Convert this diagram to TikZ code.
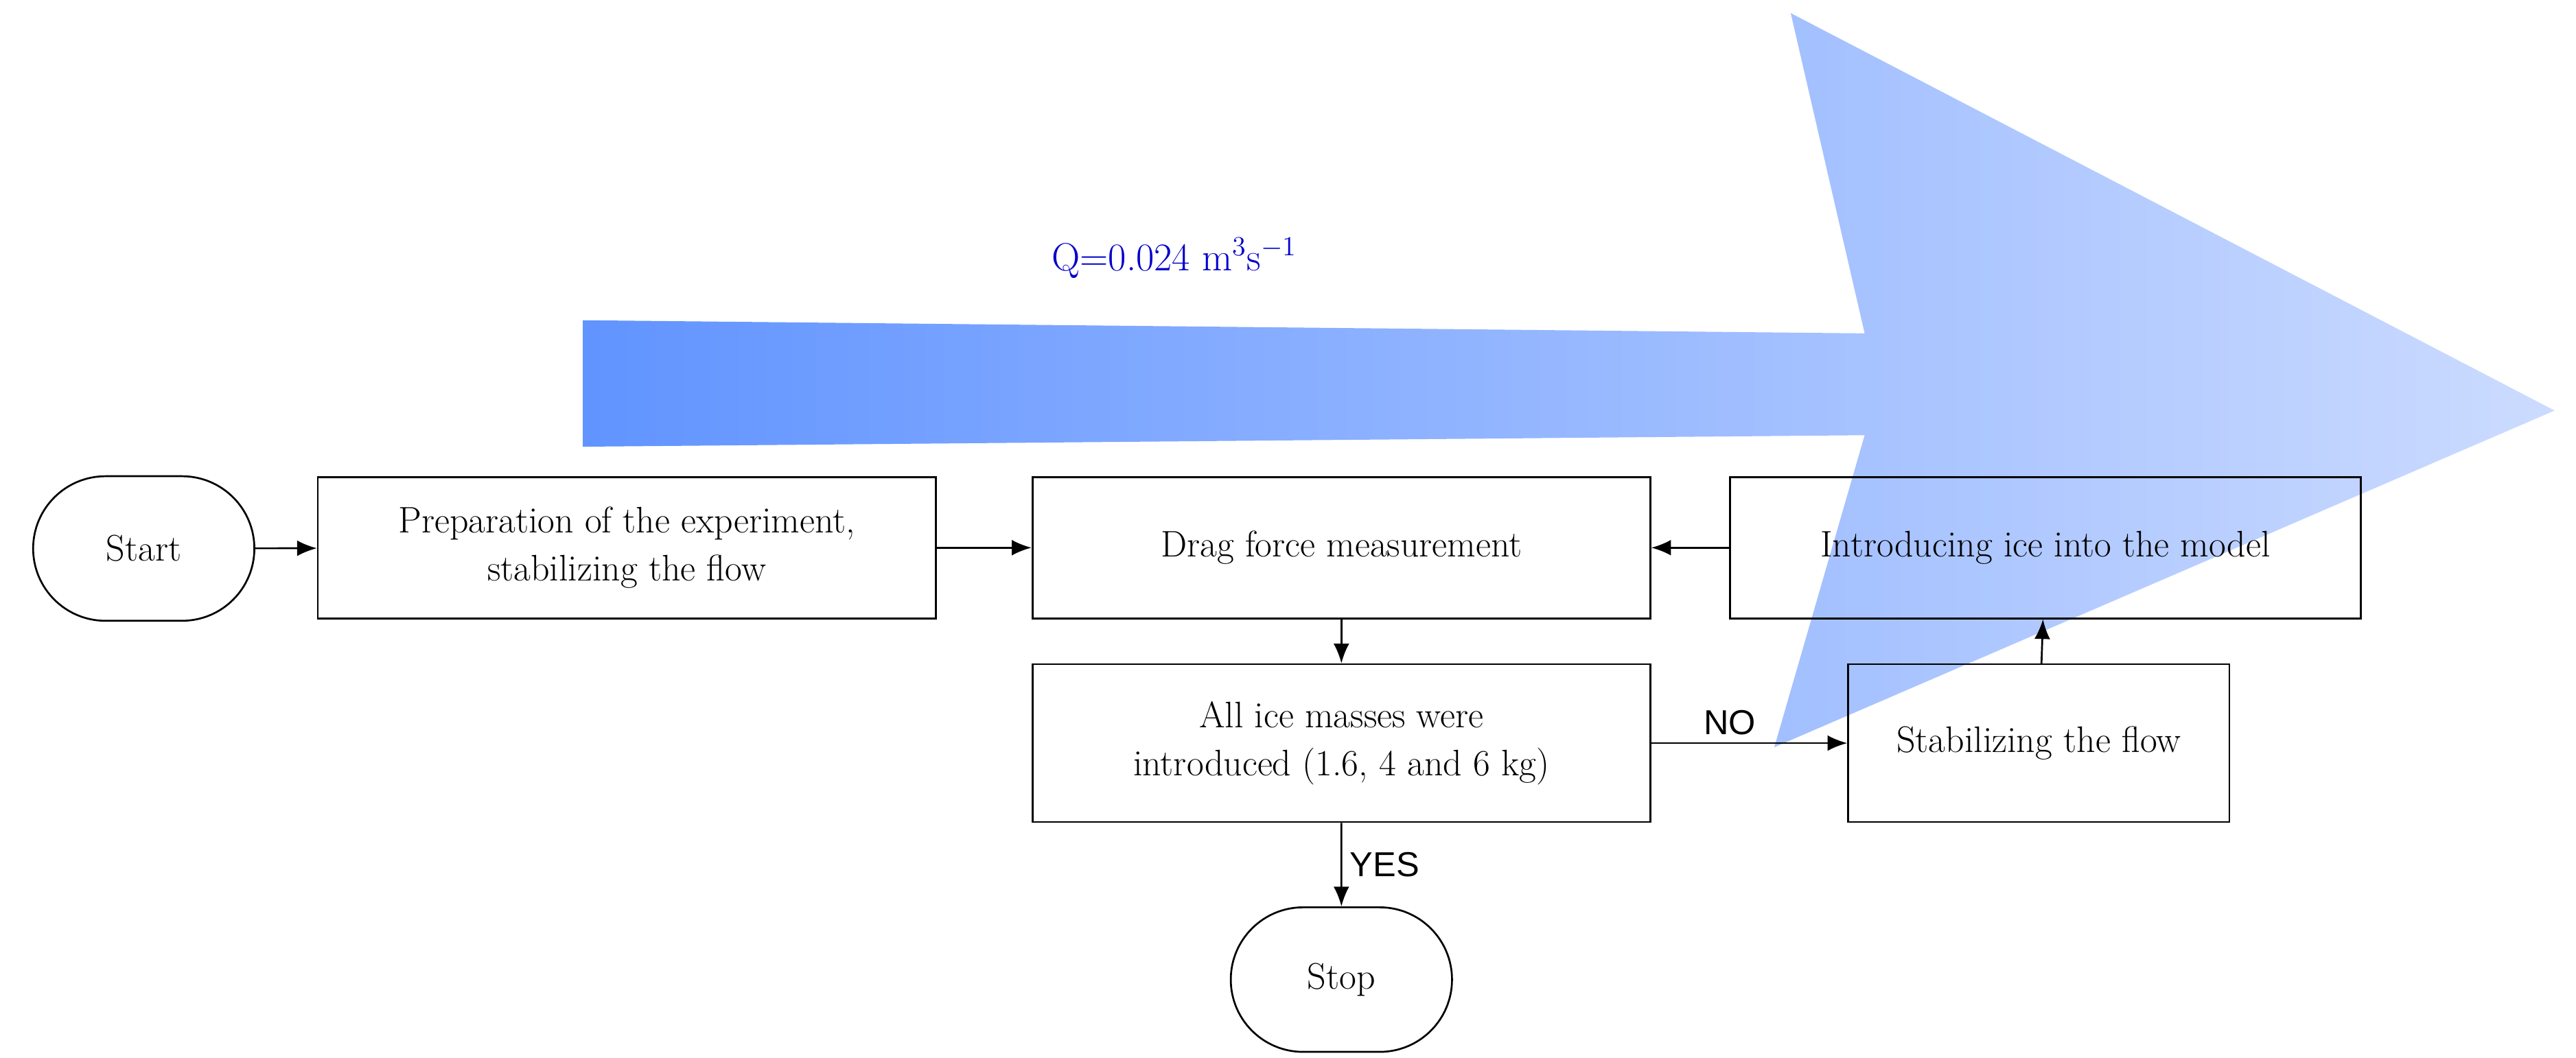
\documentclass[tikz,border=0pt]{standalone}
\usepackage{fontspec}
\newfontfamily\labelfont{Liberation Sans}
\usetikzlibrary{arrows.meta,shapes.misc}
\definecolor{flowdark}{rgb}{0.38,0.58,1}
\definecolor{flowlight}{rgb}{0.80,0.86,1}
\tikzset{
    stage/.style={draw,thick,minimum width=9.4cm,minimum height=2.15cm,align=center,font=\fontsize{16}{21}\selectfont},
    term/.style={draw,thick,rounded rectangle,minimum width=3.6cm,minimum height=2.2cm,font=\fontsize{16}{21}\selectfont},
    link/.style={thick,-{Latex[length=3mm,width=2.4mm]}},
    answer/.style={font=\labelfont\fontsize{15}{18}\selectfont}
}
\begin{document}
\begin{tikzpicture}[x=0.025cm,y=-0.025cm]
        \useasboundingbox (0,0) rectangle (1568,644);
        % flow arrow
        \shade[left color=flowdark,right color=flowlight] (355,195) -- (1135,203) -- (1090,8) -- (1555,250) -- (1080,455) -- (1135,265) -- (355,272) -- cycle;
        \node[text=blue!80!black,font=\fontsize{17}{20}\selectfont] (q) at (715,157) {Q=0.024 m\textsuperscript{3}s\textsuperscript{$-$1}};
        % boxes
        \node[term] (start) at (87.5,334) {Start};
        \node[stage] (prep) at (381.5,333.5) {Preparation of the experiment,\\stabilizing the flow};
        \node[stage] (drag) at (816.5,333.5) {Drag force measurement};
        \node[stage,minimum width=9.6cm] (intro) at (1245,333.5) {Introducing ice into the model};
        \node[stage,minimum height=2.4cm] (check) at (816.5,452.5) {All ice masses were\\introduced (1.6, 4 and 6 kg)};
        \node[stage,minimum width=5.8cm,minimum height=2.4cm] (stab) at (1241,452.5) {Stabilizing the flow};
        \node[term] (stop) at (816.5,596.5) {Stop};
        % connectors
        \draw[link] (start) -- (prep);
        \draw[link] (prep) -- (drag);
        \draw[link] (intro) -- (drag);
        \draw[link] (drag) -- (check);
        \draw[link] (check) -- node[answer,above,pos=0.4] {NO} (stab);
        \draw[link] (stab) -- (intro);
        \draw[link] (check) -- node[answer,right] {YES} (stop);
    \end{tikzpicture}
\end{document}
